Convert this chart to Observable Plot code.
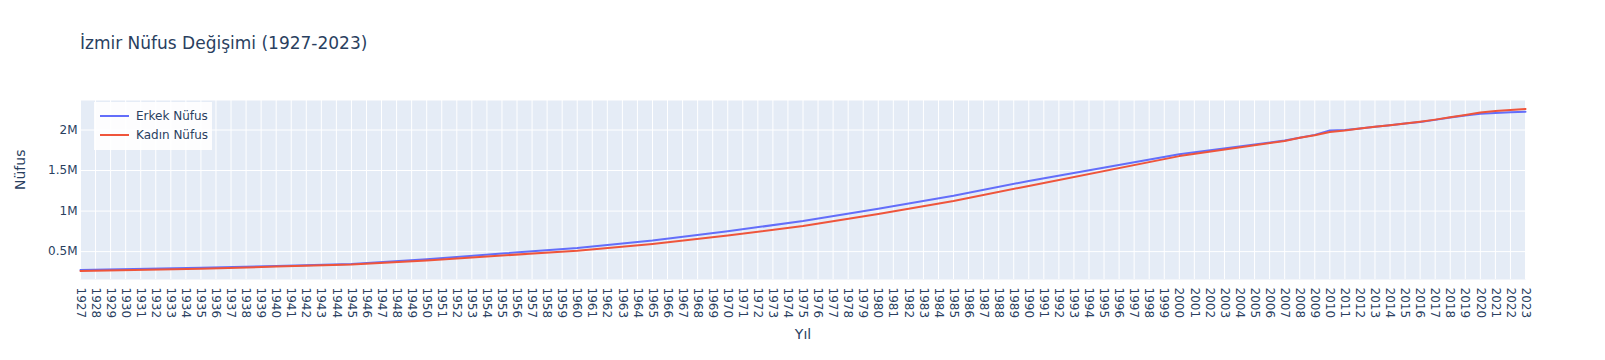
<!DOCTYPE html>
<html>
<head>
<meta charset="utf-8">
<script src="https://cdn.jsdelivr.net/npm/d3@7"></script>
<script src="https://cdn.jsdelivr.net/npm/@observablehq/plot@0.6"></script>
<style>
  html, body { margin: 0; padding: 0; background: #fff; }
  #wrap { position: relative; width: 1605px; height: 360px; font-family: "DejaVu Sans", Verdana, sans-serif; color: #2a3f5f; }
  #title { position: absolute; left: 80px; top: 33px; font-size: 17px; white-space: nowrap; }
  #legend { position: absolute; left: 94px; top: 102px; width: 118px; height: 48px; background: rgba(255,255,255,0.9); font-size: 12px; }
  .item { position: absolute; left: 6px; height: 16px; display: flex; align-items: center; }
  .sw { width: 29px; height: 2px; margin-right: 7px; }
  #chart { position: absolute; left: 0; top: 0; }
</style>
</head>
<body>
<div id="wrap">
  <div id="chart"></div>
  <div id="title">İzmir Nüfus Değişimi (1927-2023)</div>
  <div id="legend"></div>
</div>
<script>
const years = [1927, 1935, 1940, 1945, 1950, 1955, 1960, 1965, 1970, 1975, 1980, 1985, 1990, 2000,
  2007, 2008, 2009, 2010, 2011, 2012, 2013, 2014, 2015, 2016, 2017, 2018, 2019, 2020, 2021, 2022, 2023];
const erkek = [272000, 300000, 322000, 346000, 405000, 476000, 545000, 636000, 750000, 878000, 1030000, 1190000, 1372000, 1700000,
  1870000, 1905000, 1940000, 1995000, 2000000, 2020000, 2040000, 2060000, 2080000, 2100000, 2125000, 2155000, 2180000, 2200000, 2210000, 2218000, 2226000];
const kadin = [260000, 290000, 315000, 342000, 390000, 452000, 510000, 595000, 700000, 815000, 965000, 1125000, 1310000, 1678000,
  1865000, 1905000, 1935000, 1975000, 1995000, 2020000, 2040000, 2060000, 2080000, 2102000, 2128000, 2157000, 2185000, 2215000, 2233000, 2248000, 2260000];
const seriesNames = ["Erkek Nüfus", "Kadın Nüfus"];
const seriesColors = ["#636EFA", "#EF553B"];
const yTicks = [500000, 1000000, 1500000, 2000000];
const xTicks = d3.range(1927, 2024);

const data = [];
years.forEach((yr, i) => {
  data.push({Yil: yr, Nufus: erkek[i], Cinsiyet: seriesNames[0]});
  data.push({Yil: yr, Nufus: kadin[i], Cinsiyet: seriesNames[1]});
});

const all = erkek.concat(kadin);
const lo = d3.min(all), hi = d3.max(all);
const pad = (hi - lo) * 0.052;

const fmtM = v => (v / 1e6) + "M";

const chart = Plot.plot({
  width: 1605,
  height: 360,
  marginTop: 100,
  marginBottom: 81,
  marginLeft: 80,
  marginRight: 80,
  style: {fontFamily: '"DejaVu Sans", Verdana, sans-serif', fontSize: "12px", color: "#2a3f5f", background: "transparent"},
  x: {type: "linear", domain: [1927, 2023]},
  y: {domain: [lo - pad, hi + pad]},
  color: {domain: seriesNames, range: seriesColors},
  marks: [
    Plot.frame({fill: "#E5ECF6", stroke: null}),
    Plot.gridX(xTicks, {stroke: "#fff", strokeOpacity: 1, strokeWidth: 1}),
    Plot.gridY(yTicks, {stroke: "#fff", strokeOpacity: 1, strokeWidth: 1}),
    Plot.axisX(xTicks, {tickSize: 0, tickPadding: 8, tickRotate: 90, tickFormat: d => String(d), label: null, fill: "#2a3f5f", fontSize: 12}),
    Plot.axisY(yTicks, {tickSize: 0, tickPadding: 3, tickFormat: fmtM, label: null, fill: "#2a3f5f", fontSize: 12}),
    Plot.line(data, {x: "Yil", y: "Nufus", z: "Cinsiyet", stroke: "Cinsiyet", strokeWidth: 2}),
    Plot.text(["Yıl"], {frameAnchor: "bottom", dy: 59, fontSize: 14, fill: "#2a3f5f"}),
    Plot.text(["Nüfus"], {frameAnchor: "left", dx: -60, rotate: -90, fontSize: 14, fill: "#2a3f5f"})
  ]
});
document.getElementById("chart").appendChild(chart);

const leg = document.getElementById("legend");
seriesNames.forEach((n, i) => {
  const it = document.createElement("div");
  it.className = "item";
  it.style.top = (6 + i * 19) + "px";
  const sw = document.createElement("div");
  sw.className = "sw";
  sw.style.background = seriesColors[i];
  const t = document.createElement("span");
  t.textContent = n;
  it.appendChild(sw); it.appendChild(t);
  leg.appendChild(it);
});
</script>
</body>
</html>
